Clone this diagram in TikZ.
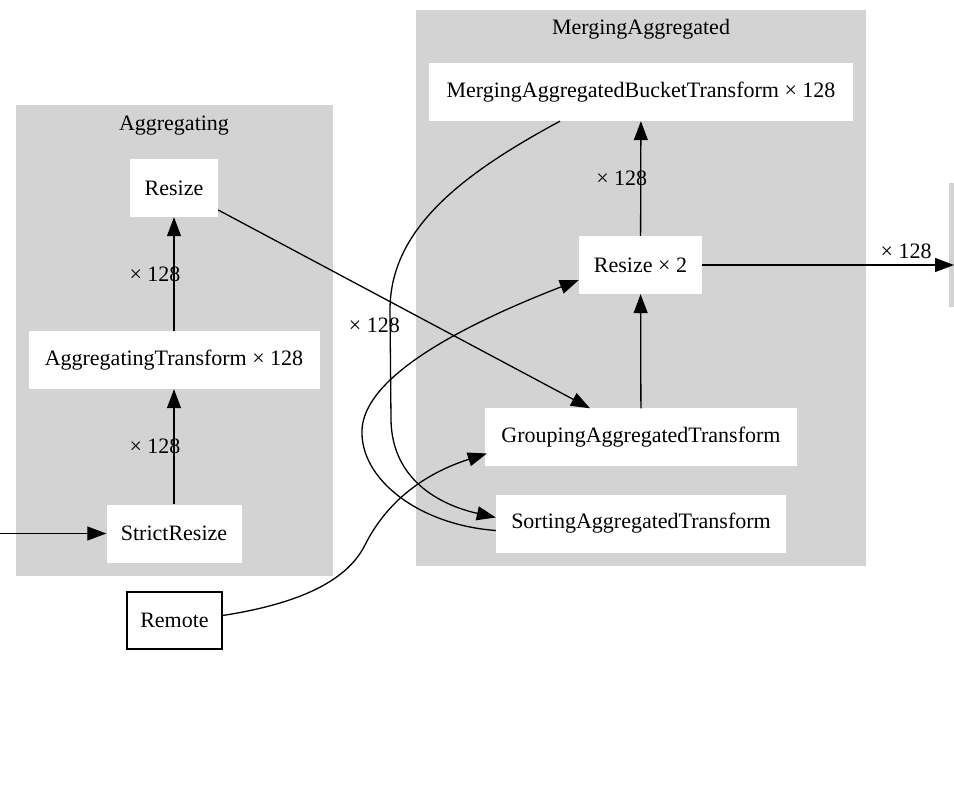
\documentclass[tikz,border=0pt]{standalone}
\usepackage{fontspec}
\setmainfont{Liberation Serif}
\usetikzlibrary{arrows.meta}
\definecolor{clustergray}{RGB}{211,211,211}
\begin{document}
\begin{tikzpicture}[x=1pt,y=-1pt,
  every node/.style={font=\fontsize{22}{26}\selectfont},
  box/.style={fill=white, inner sep=0pt, minimum height=58pt},
  arr/.style={-{Triangle[length=19pt,width=14pt]}, line width=1.3pt},
  lbl/.style={inner sep=0pt},
  cluster/.style={fill=clustergray}]
\useasboundingbox (0,0) rectangle (954,786);
% clusters
\fill[cluster] (16,105) rectangle (333,576);
\node (aggtitle) at (174,126) {Aggregating};
\fill[cluster] (416,10) rectangle (866,566);
\node (mrgtitle) at (641,29) {MergingAggregated};
\fill[cluster] (949,183) rectangle (954,307);
% nodes
\node[box, minimum width=88pt] (resize) at (174,188) {Resize};
\node[box, minimum width=291pt] (aggt) at (174,360) {AggregatingTransform × 128};
\node[box, minimum width=135pt] (strict) at (174,533.5) {StrictResize};
\node[box, draw, line width=1.3pt, minimum width=95pt, minimum height=57pt] (remote) at (174.5,620.5) {Remote};
\node[box, minimum width=424pt] (mb) at (641,92) {MergingAggregatedBucketTransform × 128};
\node[box, minimum width=123pt] (rs2) at (640.5,265) {Resize × 2};
\node[box, minimum width=312pt] (grp) at (641,437.5) {GroupingAggregatedTransform};
\node[box, minimum width=290pt] (sort) at (641,523.5) {SortingAggregatedTransform};
\coordinate (in) at (0,533.5);
\coordinate (out) at (954,265);
% edges
\draw[arr] (in) -- (strict.west);
\draw[arr] (strict) -- node[lbl, xshift=-19pt] {× 128} (aggt);
\draw[arr] (aggt) -- node[lbl, xshift=-19pt] {× 128} (resize);
\draw[arr] ([yshift=-22pt]resize.east) -- node[lbl, pos=0.42, yshift=-32pt] {× 128} ([xshift=-51pt]grp.north);
\draw[arr] (grp) -- (rs2);
\draw[arr] (rs2) -- node[lbl, xshift=-19pt] {× 128} (mb);
\draw[arr] (rs2.east) -- node[lbl, pos=0.81, yshift=14pt] {× 128} (out);
\draw[arr] ([xshift=-81pt]mb.south) .. controls (460,175) and (390,230) .. (390,310)
  -- (391,420) .. controls (392,480) and (440,505) .. ([yshift=6pt]sort.west);
\draw[arr] ([yshift=-7pt]sort.west) .. controls (420,525) and (360,480) .. (362,430)
  .. controls (364,380) and (450,330) .. ([yshift=-15pt]rs2.west);
\draw[arr] ([yshift=5pt]remote.east) .. controls (290,605) and (345,585) .. (365,545)
  .. controls (385,505) and (420,475) .. ([xshift=2pt,yshift=-16pt]grp.west);
\end{tikzpicture}
\end{document}
